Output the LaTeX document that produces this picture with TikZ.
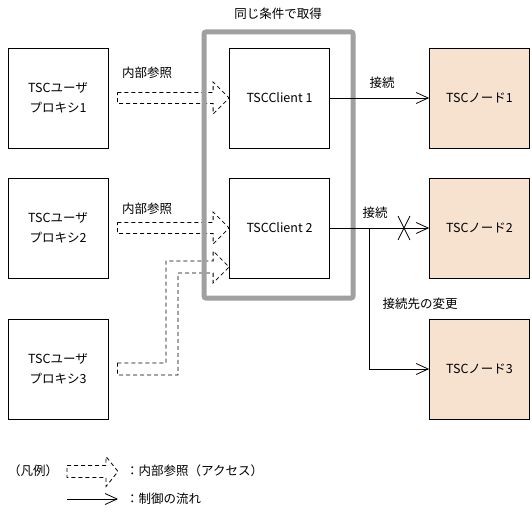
\documentclass[tikz,border=0pt]{standalone}
\usepackage{fontspec}
\setmainfont{Noto Sans CJK JP}
\usetikzlibrary{arrows.meta,calc}
\definecolor{peach}{RGB}{247,225,207}
\definecolor{framegray}{RGB}{160,160,160}
\begin{document}
\begin{tikzpicture}[x=1pt,y=-1pt,
  font=\fontsize{12.5}{20}\selectfont,
  box/.style={draw=black,line width=0.8pt,minimum width=100pt,minimum height=100pt,inner sep=0pt,align=center},
  ubox/.style={box,fill=white},
  tbox/.style={box,fill=peach},
  hollow/.style={draw=black,line width=0.8pt,dash pattern=on 4pt off 3pt,line join=miter},
  ctrl/.style={draw=black,line width=0.8pt,-{Straight Barb[length=12pt,width=11pt,line width=0.8pt]}},
  lbl/.style={inner sep=0pt}
]
\useasboundingbox (0,0) rectangle (532,519);

% boxes
\node[ubox] (u1) at (58,98) {TSCユーザ\\プロキシ1};
\node[ubox] (u2) at (58,228) {TSCユーザ\\プロキシ2};
\node[ubox] (u3) at (58,369) {TSCユーザ\\プロキシ3};
\node[ubox] (c1) at (279.5,98) {TSCClient 1};
\node[ubox] (c2) at (279.5,228) {TSCClient 2};
\node[tbox] (n1) at (479.5,98) {TSCノード1};
\node[tbox] (n2) at (479.5,228) {TSCノード2};
\node[tbox] (n3) at (479.5,369) {TSCノード3};

% hollow dashed arrows
\draw[hollow] ([xshift=9pt,yshift=5.5pt]u1.east) -- ([xshift=-16pt,yshift=5.5pt]c1.west)
  -- ([xshift=-16pt,yshift=16pt]c1.west) -- (c1.west) -- ([xshift=-16pt,yshift=-16pt]c1.west)
  -- ([xshift=-16pt,yshift=-5.5pt]c1.west) -- ([xshift=9pt,yshift=-5.5pt]u1.east) -- cycle;
\draw[hollow] ([xshift=9pt,yshift=5.5pt]u2.east) -- ([xshift=-16pt,yshift=5.5pt]c2.west)
  -- ([xshift=-16pt,yshift=16pt]c2.west) -- (c2.west) -- ([xshift=-16pt,yshift=-16pt]c2.west)
  -- ([xshift=-16pt,yshift=-5.5pt]c2.west) -- ([xshift=9pt,yshift=-5.5pt]u2.east) -- cycle;
\coordinate (t3) at ([yshift=-39pt]c2.west);
\draw[hollow] ([xshift=9pt,yshift=6pt]u3.east) -- (166,363) -- (166,261)
  -- ([xshift=-16pt,yshift=6pt]t3) -- ([xshift=-16pt,yshift=16pt]t3) -- (t3)
  -- ([xshift=-16pt,yshift=-16pt]t3) -- ([xshift=-16pt,yshift=-6pt]t3)
  -- (178,273) -- (178,375) -- ([xshift=9pt,yshift=-6pt]u3.east) -- cycle;

% grey frame
\draw[framegray,line width=5pt,rounded corners=2pt] (204,32) rectangle (353,298);
\node[lbl] (title) at (278,14) {同じ条件で取得};

% control flow
\draw[ctrl] (c1.east) -- (n1.west);
\draw[ctrl] (c2.east) -- (n2.west);
\coordinate (br) at (369,228);
\draw[ctrl] (br) |- (n3.west);
\coordinate (xc) at (404,228);
\draw[line width=0.8pt] ([xshift=-6pt,yshift=12pt]xc) -- ([xshift=6pt,yshift=-12pt]xc)
  ([xshift=6pt,yshift=12pt]xc) -- ([xshift=-6pt,yshift=-12pt]xc);

% labels
\node[lbl] (l1) at (147,73) {内部参照};
\node[lbl] (l2) at (147,209) {内部参照};
\node[lbl] (k1) at (382,83) {接続};
\node[lbl] (k2) at (375,213) {接続};
\node[lbl] (k3) at (420,304) {接続先の変更};

% legend
\node[lbl,anchor=west] (lg) at (8,471) {（凡例）};
\coordinate (lt) at (118,471.5);
\draw[hollow] (67,465.5) -- ([xshift=-12pt,yshift=6pt]lt) -- ([xshift=-12pt,yshift=15pt]lt) -- (lt)
  -- ([xshift=-12pt,yshift=-15pt]lt) -- ([xshift=-12pt,yshift=-6pt]lt) -- (67,477.5) -- cycle;
\node[lbl,anchor=west] (lg1) at (126,471) {：内部参照（アクセス）};
\coordinate (ls) at (67,499);
\coordinate (le) at (118,499);
\draw[ctrl] (ls) -- (le);
\node[lbl,anchor=west] (lg2) at (126,499) {：制御の流れ};
\end{tikzpicture}
\end{document}
